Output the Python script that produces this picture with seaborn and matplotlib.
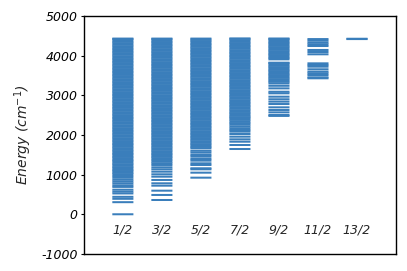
import numpy as np
import pandas as pd
import matplotlib
matplotlib.use("Agg")
import matplotlib.pyplot as plt
import seaborn as sns

J_labels = ["1/2", "3/2", "5/2", "7/2", "9/2", "11/2", "13/2"]

e_1_2 = [0, 305, 390, 440, 525, 570, 620, 690, 730, 780, 825, 870, 920, 965,
         1012, 1047, 1085, 1118, 1156, 1190, 1231, 1264, 1302, 1339, 1371, 1410, 1446, 1483,
         1520, 1554, 1593, 1628, 1665, 1701, 1739, 1772, 1810, 1846, 1883, 1918, 1955, 1991,
         2028, 2064, 2101, 2137, 2172, 2210, 2245, 2283, 2318, 2355, 2391, 2428, 2463, 2500,
         2536, 2573, 2609, 2645, 2682, 2717, 2754, 2790, 2827, 2862, 2899, 2935, 2971, 3008,
         3044, 3080, 3117, 3152, 3189, 3225, 3261, 3298, 3333, 3370, 3406, 3442, 3479, 3514,
         3551, 3587, 3623, 3660, 3695, 3732, 3768, 3804, 3841, 3876, 3913, 3949, 3985, 4022,
         4057, 4094, 4130, 4166, 4203, 4238, 4275, 4311, 4347, 4384, 4420, 4430]

e_3_2 = [360, 487, 595, 721, 781, 865, 948, 1008, 1074, 1134, 1185, 1243, 1286, 1326, 1369,
         1412, 1448, 1485, 1519, 1557, 1592, 1630, 1664, 1701, 1737, 1773, 1810, 1845, 1882,
         1917, 1954, 1990, 2026, 2063, 2098, 2135, 2171, 2207, 2244, 2279, 2316, 2352, 2388,
         2425, 2460, 2497, 2533, 2569, 2606, 2641, 2678, 2714, 2750, 2787, 2822, 2859, 2895,
         2931, 2968, 3003, 3040, 3076, 3112, 3149, 3184, 3221, 3257, 3293, 3330, 3365, 3402,
         3438, 3474, 3511, 3546, 3583, 3619, 3655, 3692, 3727, 3764, 3800, 3836, 3873, 3908,
         3945, 3981, 4017, 4054, 4089, 4126, 4162, 4198, 4235, 4270, 4307, 4343, 4379, 4416, 4430]

e_5_2 = [923, 1049, 1134, 1160, 1243, 1285, 1352, 1394, 1452, 1495, 1553, 1600,
         1663, 1698, 1735, 1769, 1806, 1842, 1879, 1913, 1950, 1986, 2023, 2058, 2094, 2131,
         2166, 2203, 2239, 2276, 2310, 2347, 2383, 2420, 2455, 2491, 2528, 2563, 2600, 2636,
         2673, 2707, 2744, 2780, 2817, 2852, 2888, 2925, 2960, 2997, 3033, 3070, 3104, 3141,
         3177, 3214, 3249, 3285, 3322, 3357, 3394, 3430, 3467, 3501, 3538, 3574, 3611, 3646,
         3682, 3719, 3754, 3791, 3827, 3864, 3898, 3935, 3971, 4008, 4043, 4079, 4116, 4151,
         4188, 4224, 4261, 4295, 4332, 4368, 4405, 4430]

e_7_2 = [1646, 1747, 1830, 1890, 1957, 2024, 2083, 2125, 2170, 2215, 2260, 2300, 2340, 2380, 2420,
         2445, 2481, 2517, 2552, 2589, 2624, 2661, 2697, 2733, 2768, 2805, 2841, 2876, 2913,
         2949, 2985, 3020, 3057, 3093, 3128, 3165, 3201, 3236, 3273, 3309, 3345, 3380, 3417,
         3453, 3488, 3525, 3561, 3597, 3632, 3669, 3705, 3740, 3777, 3813, 3849, 3884, 3921,
         3957, 3992, 4029, 4065, 4101, 4136, 4173, 4209, 4244, 4281, 4317, 4353, 4388, 4425, 4432]

e_9_2 = [2480, 2503, 2570, 2630, 2697, 2780, 2840, 2900, 2965, 3050, 3090, 3175, 3240, 3300,
         3340, 3372, 3405, 3441, 3474, 3508, 3540, 3575, 3609, 3642, 3676, 3710, 3745, 3778,
         3812, 3822,
         3907, 3941, 3976, 4010, 4043, 4079, 4112, 4147, 4181, 4215, 4250, 4283, 4318, 4352,
         4386, 4420, 4432]

e_11_2 = [3429, 3454, 3512, 3555, 3596, 3656, 3722, 3764, 3806,
          4034, 4092, 4143, 4243, 4285, 4326, 4376, 4418]

e_13_2 = [4418, 4426]

levels = [e_1_2, e_3_2, e_5_2, e_7_2, e_9_2, e_11_2, e_13_2]
y_ticks = [-1000, 0, 1000, 2000, 3000, 4000, 5000]

sns.set_theme(style="white")
plt.rcParams["font.family"] = ["DejaVu Sans"]

fig = plt.figure(figsize=(4.07, 2.71), dpi=100)
ax = fig.add_axes([0.206, 0.063, 0.767, 0.878])

color = "#3a7ebb"
colls = ax.eventplot(levels, orientation="vertical", lineoffsets=list(range(len(J_labels))),
                     linelengths=0.54, linewidths=1.45, colors=color)
for c in colls:
    c.set_snap(False)
    c.set_antialiased(True)

ax.set_xlim(-1, 7)
ax.set_ylim(-1000, 5000)
ax.set_xticks([])
ax.set_yticks(y_ticks)
ax.set_yticklabels([str(t) for t in y_ticks], fontstyle="italic", fontsize=9)
ax.tick_params(axis="y", direction="out", length=2.5, width=0.8, left=True, pad=2, colors="black")
ax.set_xlabel("")
ax.set_ylabel("Energy (cm$^{-1}$)", fontstyle="italic", fontsize=10, labelpad=5)

for i, lab in enumerate(J_labels):
    ax.text(i, -400, lab, ha="center", va="center", fontstyle="italic", fontsize=9)

for sp in ax.spines.values():
    sp.set_visible(True)
    sp.set_color("black")
    sp.set_linewidth(1.0)

fig.savefig("out.png", dpi=100)
